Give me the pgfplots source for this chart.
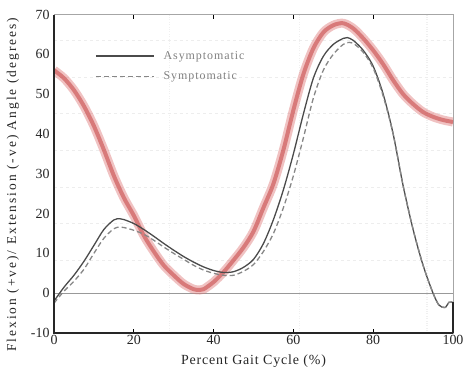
\documentclass[border=0pt]{standalone}
\usepackage{fontspec}
\setmainfont{Liberation Serif}
\usepackage{pgfplots}
\pgfplotsset{compat=1.18}
\definecolor{asym}{RGB}{75,75,75}
\definecolor{sym}{RGB}{135,135,135}
\definecolor{redband}{RGB}{222,120,120}
\definecolor{redcore}{RGB}{200,75,75}
\begin{document}
\begin{tikzpicture}
\begin{axis}[
  name=ax,
  scale only axis,
  width=399bp, height=318.5bp,
  xmin=0, xmax=100, ymin=-10, ymax=70,
  xtick={0,20,40,60,80,100},
  ytick={-10,0,10,20,30,40,50,60,70},
  tick align=inside,
  major tick length=4bp,
  ytick style={draw=none},
  xtick style={black, line width=0.8bp},
  axis line style={draw=gray!70, line width=0.6bp},
  /pgf/number format/assume math mode=true,
  tick label style={font=\fontsize{14}{16}\selectfont, text=black!85},
  yticklabel style={xshift=-1bp},
  xticklabel style={yshift=1bp},
  extra y ticks={8.3,17.5,26.7,35.9,45.2,54.3,63.6},
  extra y tick labels={},
  extra y tick style={grid=major, major grid style={gray!14, dashed, line width=0.6bp}, tick style={draw=none}},
  extra x ticks={29,61.5,93.5},
  extra x tick labels={},
  extra x tick style={grid=major, major grid style={gray!12, dotted, line width=1.2bp}, tick style={draw=none}},
  xlabel={\addfontfeatures{LetterSpace=6}Percent Gait Cycle (\%)},
  xlabel style={font=\fontsize{14}{16}\selectfont, text=black!85, yshift=-3bp},
  ylabel={\addfontfeatures{LetterSpace=15}Flexion (+ve)/ Extension (-ve) Angle (degrees)},
  ylabel style={font=\fontsize{13.5}{15}\selectfont, text=black!85, yshift=5bp, xshift=-11bp},
  legend style={at={(axis cs:10.3,61.3)}, anchor=north west, draw=none, fill=none,
    font=\fontsize{12}{14}\selectfont\addfontfeatures{LetterSpace=8}, text=gray,
    row sep=7bp, inner sep=0pt,
    nodes={inner xsep=9bp}},
  legend image code/.code={\draw[#1] (0bp,0bp) -- (58bp,0bp);},
  legend cell align=left,
  clip=true,
]
% zero line
\addplot[forget plot, gray!80, line width=0.9bp] coordinates {(0,0) (100,0)};
% normal reference band (red)
\pgfplotstableread{
x y
0 56
2.5 54
5 51
7.5 47
10 42
12.5 36
15 29.5
17.5 24
20 19.5
22.5 14.5
25 10.5
27.5 7
30 4.5
32.5 2.3
35 1.0
36.5 0.8
37.5 1.0
40 2.8
42.5 5.3
45 8.3
47.5 11.5
50 15.5
52.5 21.5
55 27.5
57.5 36
60 46
62.5 55
65 61.5
67.5 65.5
70 67.3
72.5 67.8
75 66.5
77.5 64
80 61
82.5 57.5
85 53.5
87.5 50
90 47.5
92.5 45.5
95 44.3
97.5 43.5
100 43
}\redtab
\addplot[forget plot, smooth, redband, opacity=0.45, line width=9bp] table[x=x,y=y]{\redtab};
\addplot[forget plot, smooth, redcore, opacity=0.6, line width=4bp] table[x=x,y=y]{\redtab};
% asymptomatic
\addplot[smooth, asym, line width=1.3bp] coordinates {
(0,-2.0) (2.5,1.5) (5,4.5) (7.5,8) (10,12) (12.5,16) (15,18.4) (16.5,18.7) (17.5,18.5)
(20,17.5) (22.5,16) (25,14.3) (27.5,12.5) (30,10.8) (32.5,9.2) (35,7.8) (37.5,6.6)
(40,5.7) (42.5,5.2) (45,5.4) (47.5,6.5) (50,8.5) (52.5,12.5) (55,18.5) (57.5,26)
(60,35) (62.5,45) (65,54) (67.5,59.5) (70,62.5) (72.5,64) (73.5,64.2) (75,63.5)
(77.5,61) (80,57) (82.5,50) (85,40) (87.5,27) (90,16) (92.5,7) (95,0) (96.5,-3)
(98,-3.6) (99,-2.3) (100,-2.3)
};
\addlegendentry{Asymptomatic}
% symptomatic
\addplot[smooth, sym, line width=1.3bp, dash pattern=on 5bp off 3bp] coordinates {
(0,-2.5) (2.5,0.5) (5,3) (7.5,6) (10,10) (12.5,13.8) (15,16.2) (16.5,16.6) (17.5,16.5)
(20,15.8) (22.5,14.8) (25,13.3) (27.5,11.6) (30,10) (32.5,8.5) (35,7) (37.5,5.8)
(40,5) (42.5,4.5) (45,4.5) (47.5,5.5) (50,7.2) (52.5,10.5) (55,15) (57.5,21.5)
(60,29.5) (62.5,39) (65,49) (67.5,56) (70,60) (72.5,62.5) (74,63) (75,62.8)
(77.5,60.5) (80,56.5) (82.5,49.5) (85,40) (87.5,27) (90,16) (92.5,7) (95,0) (96.5,-3)
(98,-3.6) (99,-2.3) (100,-2.3)
};
\addlegendentry{Symptomatic}
\end{axis}
\draw[black!85, line width=1.5bp] (ax.north west) -- (ax.south west) -- (ax.south east);
\draw[black!85, line width=1.5bp] (ax.south east) -- ([yshift=31bp]ax.south east);
\pgfresetboundingbox
\path ([xshift=-54bp,yshift=-35bp]ax.south west) rectangle ([xshift=12bp,yshift=14.5bp]ax.north east);
\end{tikzpicture}
\end{document}
